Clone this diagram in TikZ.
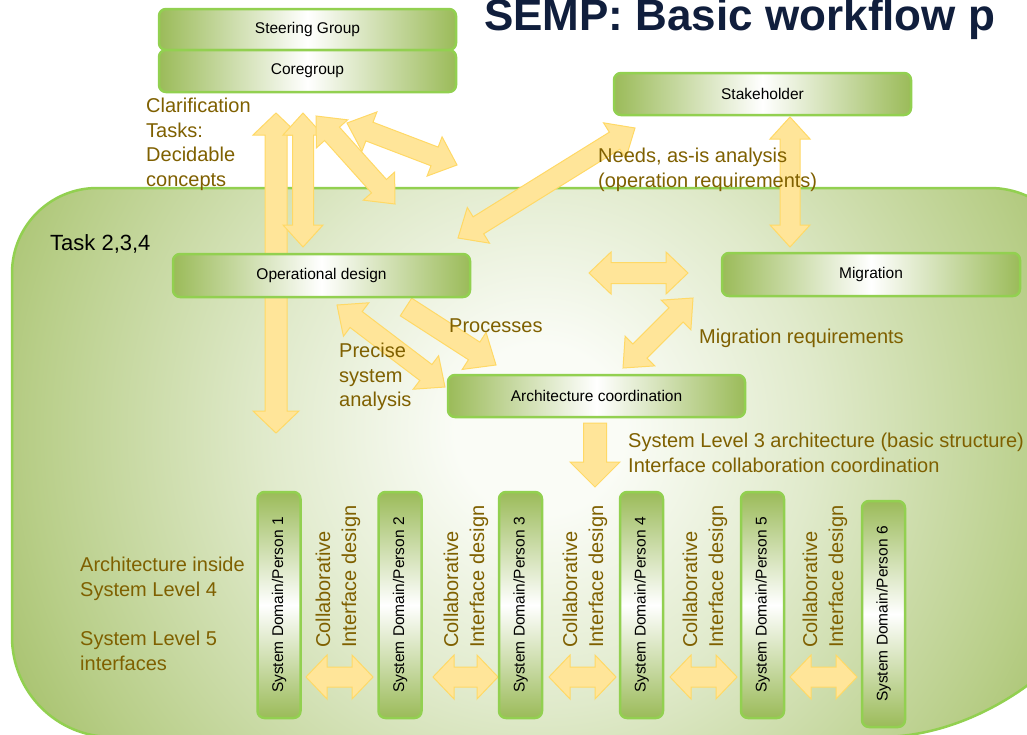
\documentclass[tikz,border=0pt]{standalone}
\usepackage{fontspec}
\setmainfont{Liberation Sans}
\usepackage{graphicx}
\usetikzlibrary{calc}
\definecolor{gdark}{RGB}{155,187,89}
\definecolor{gborder}{RGB}{146,208,80}
\definecolor{afill}{RGB}{255,229,153}
\definecolor{aline}{RGB}{255,217,102}
\definecolor{lblc}{RGB}{127,96,0}
\definecolor{titlec}{RGB}{16,30,60}
\definecolor{bgcA}{RGB}{250,252,246}
\definecolor{bgcB}{RGB}{224,234,203}
\definecolor{bgcC}{RGB}{184,206,136}
\definecolor{bgcD}{RGB}{155,185,90}
\pgfdeclareradialshading{bigrad}{\pgfpoint{0bp}{0bp}}{color(0bp)=(bgcA); color(4bp)=(bgcA); color(13bp)=(bgcB); color(24bp)=(bgcC); color(31bp)=(bgcD); color(50bp)=(bgcD)}

\newcommand\dblarrow[5]{%
 \path ($(#1)!#5!(#2)$) coordinate (qa) ($(#2)!#5!(#1)$) coordinate (qb);
 \draw[blk] (#1) -- ($(qa)!#4!90:(#2)$) -- ($(qa)!#3!90:(#2)$) -- ($(qb)!#3!-90:(#1)$) -- ($(qb)!#4!-90:(#1)$) -- (#2) -- ($(qb)!#4!90:(#1)$) -- ($(qb)!#3!90:(#1)$) -- ($(qa)!#3!-90:(#2)$) -- ($(qa)!#4!-90:(#2)$) -- cycle;}
\newcommand\sglarrow[5]{%
 \path ($(#2)!#5!(#1)$) coordinate (qb);
 \draw[blk] ($(#1)!#3!90:(#2)$) -- ($(qb)!#3!-90:(#1)$) -- ($(qb)!#4!-90:(#1)$) -- (#2) -- ($(qb)!#4!90:(#1)$) -- ($(qb)!#3!90:(#1)$) -- ($(#1)!#3!-90:(#2)$) -- cycle;}

\tikzset{
 hbox/.style={draw=gborder, line width=2.5pt, rounded corners=7pt, left color=gdark, right color=gdark, middle color=white, minimum width=297pt, minimum height=42pt, font=\fontsize{15.5}{18}\selectfont, inner sep=0pt},
 vbox/.style={draw=gborder, line width=2.5pt, rounded corners=7pt, top color=gdark, bottom color=gdark, middle color=white, minimum width=43pt, minimum height=226pt, font=\fontsize{15.5}{18}\selectfont, inner sep=0pt},
 lbl/.style={text=lblc, font=\fontsize{20}{24.5}\selectfont, align=left, anchor=north west, inner sep=0pt},
 collab/.style={text=lblc, font=\fontsize{20}{26}\selectfont, align=left, rotate=90, anchor=west, inner sep=0pt},
 blk/.style={fill=afill, draw=aline, line width=1pt, line join=miter},
}

\begin{document}
\begin{tikzpicture}[x=1pt,y=-1pt]
\useasboundingbox (0,0) rectangle (1027,734);
\clip (0,0) rectangle (1027,734);
\fill[white] (0,0) rectangle (1027,734);

% big task region
\def\regionpath{(12,450) [rounded corners=85] |- (500,188) [rounded corners=90] -| (1080,537) [sharp corners] arc[start angle=0, end angle=90, radius=200] -- (500,737) [rounded corners=100] -| (12,450) -- cycle}
\begin{scope}
 \clip \regionpath;
 \fill[bgcD] (0,150) rectangle (1100,760);
 \shade[shading=bigrad] (10,-100) rectangle (1070,960);
\end{scope}
\draw[gborder, line width=2.5pt] \regionpath;

% arrow end coordinates
\coordinate (a1t) at (276,113); \coordinate (a1b) at (276,433);
\coordinate (a2t) at (303,113); \coordinate (a2b) at (303,247);
\coordinate (a3t) at (316,116); \coordinate (a3b) at (395,204);
\coordinate (a4t) at (347,123); \coordinate (a4b) at (457,165);
\coordinate (a5t) at (635,128); \coordinate (a5b) at (458,238);
\coordinate (a6t) at (790,117); \coordinate (a6b) at (790,247);
\coordinate (a7l) at (589,273); \coordinate (a7r) at (688,273);
\coordinate (a8t) at (693,298); \coordinate (a8b) at (623,368);
\coordinate (a9s) at (406,307); \coordinate (a9e) at (496,365);
\coordinate (a10t) at (337,305); \coordinate (a10b) at (445,387);
\coordinate (a11s) at (595,423); \coordinate (a11e) at (595,487);

\dblarrow{a1t}{a1b}{11pt}{23pt}{22pt}
\dblarrow{a2t}{a2b}{10.5pt}{20pt}{22pt}
\dblarrow{a3t}{a3b}{10pt}{21pt}{24pt}
\dblarrow{a4t}{a4b}{10pt}{21pt}{24pt}
\dblarrow{a5t}{a5b}{10pt}{21pt}{24pt}
\dblarrow{a6t}{a6b}{10pt}{20pt}{22pt}
\dblarrow{a7l}{a7r}{10.5pt}{21pt}{22pt}
\dblarrow{a8t}{a8b}{10pt}{21pt}{24pt}
\sglarrow{a9s}{a9e}{10.5pt}{22pt}{26pt}
\dblarrow{a10t}{a10b}{10pt}{21pt}{24pt}
\sglarrow{a11s}{a11e}{11.5pt}{25pt}{25pt}

% bottom collaborative arrows
\coordinate (c1l) at (306,677); \coordinate (c1r) at (373,677);
\coordinate (c2l) at (433,677); \coordinate (c2r) at (498,677);
\coordinate (c3l) at (549,677); \coordinate (c3r) at (616,677);
\coordinate (c4l) at (670,677); \coordinate (c4r) at (737,677);
\coordinate (c5l) at (790,677); \coordinate (c5r) at (857,677);
\dblarrow{c1l}{c1r}{10pt}{22pt}{21pt}
\dblarrow{c2l}{c2r}{10pt}{22pt}{21pt}
\dblarrow{c3l}{c3r}{10pt}{22pt}{21pt}
\dblarrow{c4l}{c4r}{10pt}{22pt}{21pt}
\dblarrow{c5l}{c5r}{10pt}{22pt}{21pt}

% boxes
\node[hbox, minimum height=41pt] (steer) at (307.5,29.5) {Steering Group};
\node[hbox] (core) at (307.5,71) {Coregroup};
\node[hbox] (stake) at (762.5,94) {Stakeholder};
\node[hbox, minimum height=43pt] (opd) at (321.5,275.5) {Operational design};
\node[hbox, minimum width=298pt, minimum height=43pt] (mig) at (871,274.5) {Migration};
\node[hbox] (arch) at (596.5,396) {Architecture coordination};

\node[vbox] (sd1) at (279,605) {\rotatebox{90}{System Domain/Person 1}};
\node[vbox] (sd2) at (400,605) {\rotatebox{90}{System Domain/Person 2}};
\node[vbox] (sd3) at (520.5,605) {\rotatebox{90}{System Domain/Person 3}};
\node[vbox] (sd4) at (641.5,605) {\rotatebox{90}{System Domain/Person 4}};
\node[vbox] (sd5) at (762.5,605) {\rotatebox{90}{System Domain/Person 5}};
\node[vbox] (sd6) at (883.5,614) {\rotatebox{90}{System Domain/Person 6}};

% collaborative labels
\node[collab] (ci1) at (338,648) {Collaborative\\Interface design};
\node[collab] (ci2) at (466,648) {Collaborative\\Interface design};
\node[collab] (ci3) at (585,648) {Collaborative\\Interface design};
\node[collab] (ci4) at (705,648) {Collaborative\\Interface design};
\node[collab] (ci5) at (825,648) {Collaborative\\Interface design};

% labels
\node[lbl] (clar) at (146,98) {Clarification\\Tasks:\\Decidable\\concepts};
\node[lbl] (needs) at (598,148) {Needs, as-is analysis\\(operation requirements)};
\node[lbl] (proc) at (449,319) {Processes};
\node[lbl] (prec) at (339,343) {Precise\\system\\analysis};
\node[lbl] (migreq) at (699,329) {Migration requirements};
\node[lbl] (sl3) at (628,433) {System Level 3 architecture (basic structure)\\Interface collaboration coordination};
\node[lbl] (archin) at (80,557) {Architecture inside\\System Level 4};
\node[lbl] (sl5) at (80,631) {System Level 5\\interfaces};
\node[lbl, text=black, font=\fontsize{22}{26}\selectfont] (task) at (50,234) {Task 2,3,4};

% title
\node[anchor=base west, inner sep=0pt, text=titlec, font=\fontsize{44}{44}\selectfont\bfseries] (title) at (484,30) {SEMP: Basic workflow p};
\end{tikzpicture}
\end{document}
